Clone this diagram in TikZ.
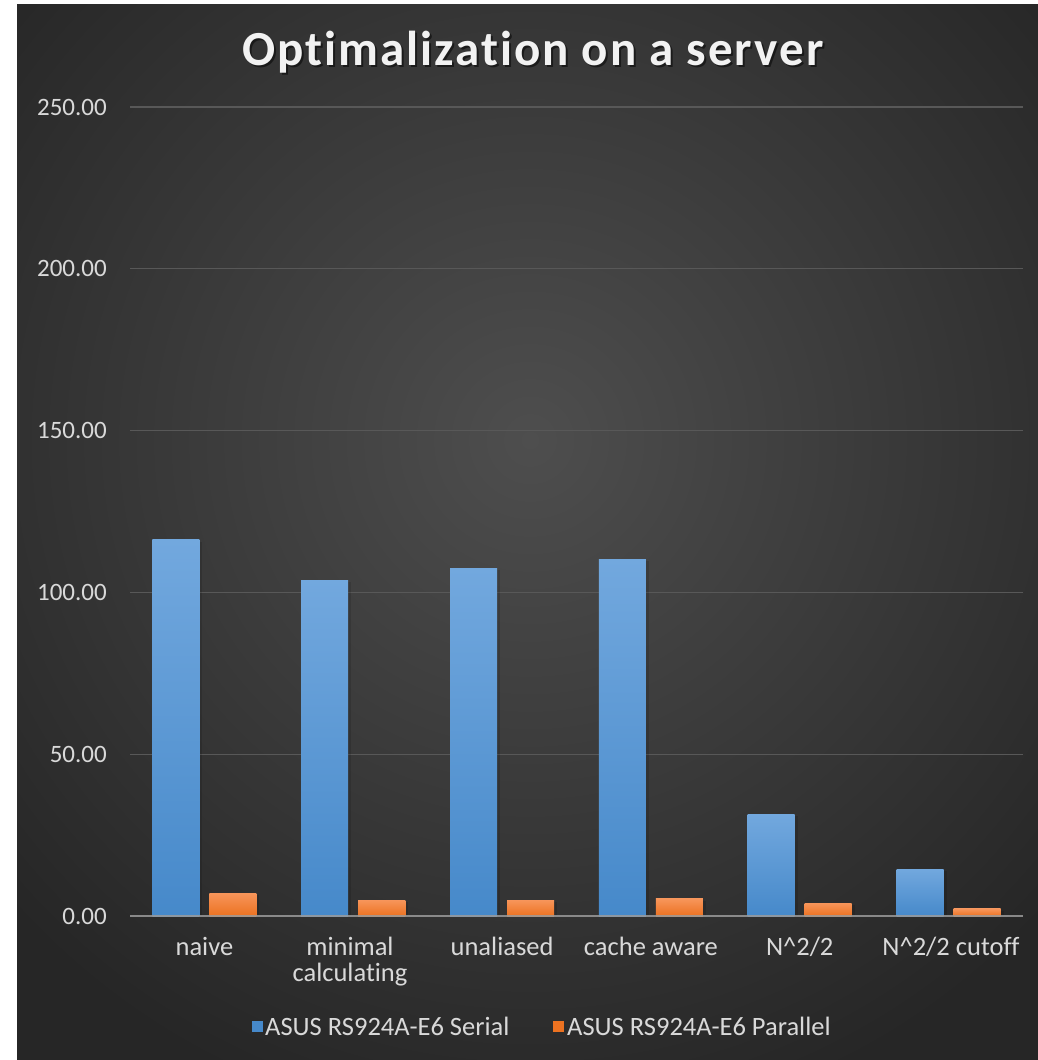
\documentclass[tikz,border=0pt]{standalone}
\usepackage{fontspec}
\setmainfont{Carlito}[Ligatures={NoCommon,NoRare}]
\definecolor{bgout}{HTML}{262626}
\definecolor{bgin}{HTML}{4E4E4E}
\definecolor{gridc}{HTML}{585858}
\definecolor{axisc}{HTML}{9A9A9A}
\definecolor{txt}{HTML}{D9D9D9}
\definecolor{titlec}{HTML}{F2F2F2}
\definecolor{bluetop}{HTML}{72A8DE}
\definecolor{bluebot}{HTML}{4689CA}
\definecolor{orgtop}{HTML}{F7955A}
\definecolor{orgbot}{HTML}{EC7221}
\begin{document}
\begin{tikzpicture}[x=1pt,y=-1pt,
  lbl/.style={text=txt,font=\fontsize{25}{30}\selectfont,inner sep=0pt},
  catlbl/.style={lbl,font=\fontsize{26.5}{30}\selectfont,anchor=base},
  titlefont/.style={inner sep=0pt,anchor=base,font=\fontsize{49}{56}\selectfont\bfseries\addfontfeature{LetterSpace=4}},
  gridline/.style={draw=gridc,line width=1.2pt},
  bluebar/.style={top color=bluetop,bottom color=bluebot},
  orgbar/.style={top color=orgtop,bottom color=orgbot},
  barshadow/.style={fill=black,opacity=0.12}]
\useasboundingbox (0,0) rectangle (1038,1060);
\fill[white] (0,0) rectangle (1038,1060);
\fill[bgout] (17,4) rectangle (1038,1060);
\begin{scope}
  \clip (17,4) rectangle (1038,1060);
  \shade[inner color=bgin, outer color=bgout] (530,440) circle (700);
\end{scope}
% gridlines
\foreach \v in {50,100,150,200,250}
  \draw[gridline] (130,{916-3.236*\v}) -- (1023,{916-3.236*\v});
% y labels
\foreach \v/\t in {0/0.00,50/50.00,100/100.00,150/150.00,200/200.00,250/250.00}
  \node[lbl,anchor=east] (y\v) at (107,{916-3.236*\v}) {\t};
% bars
\foreach \i/\b/\o in {0/116.2/7.1, 1/103.8/4.9, 2/107.5/4.9, 3/110.3/5.3, 4/31.5/4.0, 5/14.5/2.2}{
  \pgfmathsetmacro\c{130+148.83*(\i+0.5)}
  \fill[barshadow] ({\c-50},{916-3.236*\b+2}) rectangle ({\c-2},916);
  \fill[barshadow] ({\c+7},{916-3.236*\o+2}) rectangle ({\c+55},916);
  \shade[bluebar] ({\c-52},{916-3.236*\b}) rectangle ({\c-5},916);
  \shade[orgbar] ({\c+5},{916-3.236*\o}) rectangle ({\c+52},916);
}
% axis
\draw[axisc,line width=2.5pt,opacity=0.85] (130,916) -- (1023,916);
% category labels
\node[catlbl] (c0) at (204.4,955) {naive};
\node[catlbl] (c1a) at (350,955) {minimal};
\node[catlbl] (c1b) at (350,981) {calculating};
\node[catlbl] (c2) at (502.1,955) {unaliased};
\node[catlbl] (c3) at (650.9,955) {cache aware};
\node[catlbl] (c4) at (799.7,955) {N\^{}2/2};
\node[catlbl] (c5) at (951,955) {N\^{}2/2 cutoff};
% legend
\node[fill=bluebot,minimum size=11pt,inner sep=0pt] (lgb) at (257.5,1026) {};
\node[lbl,font=\fontsize{26.5}{30}\selectfont,anchor=base west] (lgbt) at (265,1035) {ASUS RS924A-E6 Serial};
\node[fill=orgbot,minimum size=11pt,inner sep=0pt] (lgo) at (558.5,1026) {};
\node[lbl,font=\fontsize{26.5}{30}\selectfont,anchor=base west] (lgot) at (567,1035) {ASUS RS924A-E6 Parallel};
% title
\node[titlefont,text=black,opacity=0.5] (titleshadow) at (535,67) {Optimalization on a server};
\node[titlefont,text=titlec] (title) at (533,65) {Optimalization on a server};
\end{tikzpicture}
\end{document}
